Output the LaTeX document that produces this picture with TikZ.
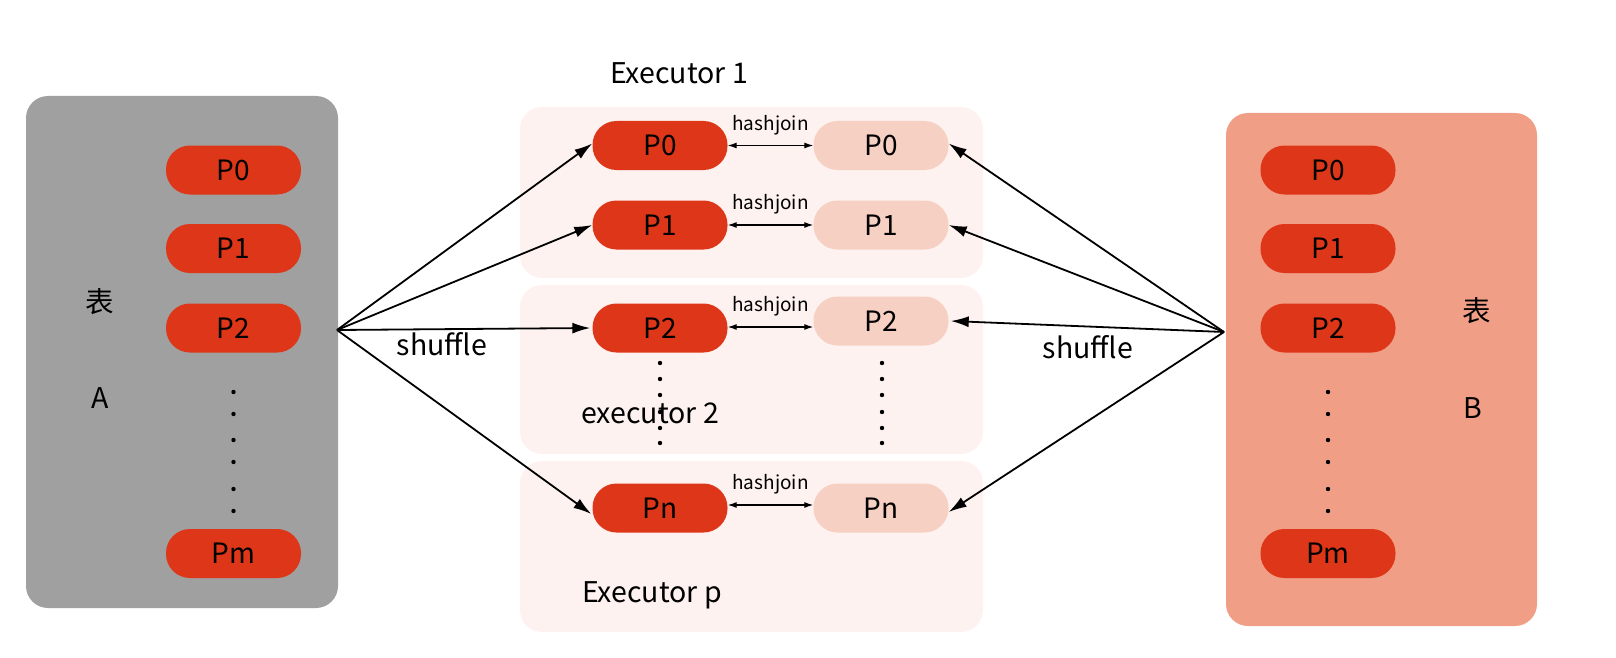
\documentclass[tikz,border=0pt]{standalone}
\usepackage{fontspec}
\setmainfont{Noto Sans CJK SC}
\usetikzlibrary{arrows.meta}
\definecolor{grayA}{RGB}{160,160,160}
\definecolor{redP}{RGB}{221,54,24}
\definecolor{salmonB}{RGB}{241,158,134}
\definecolor{lightP}{RGB}{247,208,196}
\definecolor{execbg}{RGB}{253,242,239}
\begin{document}
\begin{tikzpicture}[x=1pt,y=-1pt,
 pill/.style={rectangle, rounded corners=24pt, minimum width=135pt, minimum height=49pt, inner sep=0pt, font=\fontsize{28}{32}\selectfont, text=black},
 darkpill/.style={pill, fill=redP},
 lightpill/.style={pill, fill=lightP},
 tablebox/.style={rectangle, rounded corners=22pt, inner sep=0pt},
 execbox/.style={rectangle, rounded corners=22pt, fill=execbg, inner sep=0pt, minimum width=463pt},
 shuf/.style={-{Latex[length=18pt,width=11pt]}, line width=1.8pt},
 hj/.style={{Latex[length=9pt,width=6pt]}-{Latex[length=9pt,width=6pt]}, line width=1.2pt},
 lbl/.style={font=\fontsize{28.5}{32}\selectfont, inner sep=0pt},
 hjlbl/.style={font=\fontsize{19}{21}\selectfont, inner sep=0pt}
]
\useasboundingbox (0,0) rectangle (1616,658);
% table boxes
\node[tablebox, fill=grayA, minimum width=312pt, minimum height=512pt] (tA) at (182,352) {};
\node[tablebox, fill=salmonB, minimum width=311pt, minimum height=513pt] (tB) at (1381.5,369.5) {};
% executor boxes
\node[execbox, minimum height=171pt] (e1) at (751.5,192.5) {};
\node[execbox, minimum height=169pt] (e2) at (751.5,369.5) {};
\node[execbox, minimum height=171pt] (e3) at (751.5,546.5) {};
% labels
\node[lbl] (tA1) at (100,302) {表};
\node[lbl] (tA2) at (100,398) {A};
\node[lbl] (tB1) at (1477,311) {表};
\node[lbl] (tB2) at (1473,408) {B};
\node[lbl] (x1) at (679,73) {Executor 1};
\node[lbl] (x2) at (650,413) {executor 2};
\node[lbl] (x3) at (652,595) {Executor p};
% table A pills
\node[darkpill] (a0) at (233.5,170) {P0};
\node[darkpill] (a1) at (233.5,248.5) {P1};
\node[darkpill] (a2) at (233.5,328) {P2};
\node[darkpill] (am) at (233.5,553.5) {Pm};
% table B pills
\node[darkpill] (b0) at (1328,170) {P0};
\node[darkpill] (b1) at (1328,248.5) {P1};
\node[darkpill] (b2) at (1328,328) {P2};
\node[darkpill] (bm) at (1328,553.5) {Pm};
% executor pills
\node[darkpill] (d0) at (660,145.5) {P0};
\node[darkpill] (d1) at (660,225) {P1};
\node[darkpill] (d2) at (660,328) {P2};
\node[darkpill] (dn) at (660,508) {Pn};
\node[lightpill] (l0) at (881,145.5) {P0};
\node[lightpill] (l1) at (881,225) {P1};
\node[lightpill] (l2) at (881,321) {P2};
\node[lightpill] (ln) at (881,508) {Pn};
% dots
\foreach \y in {392,414,440,462,489,511} {
  \fill (233.5,\y) circle (2.2pt);
  \fill (1328,\y) circle (2.2pt);
}
\foreach \y in {363,379,395,412,428,443} {
  \fill (660,\y) circle (2.2pt);
  \fill (882,\y) circle (2.2pt);
}
% shuffle arrows
\coordinate (fa) at (337,330);
\coordinate (fb) at (1224,332);
\draw[shuf] (fa) -- ([yshift=2pt]d0.west);
\draw[shuf] (fa) -- (d1.west);
\draw[shuf] (fa) -- ([xshift=-2pt]d2.west);
\draw[shuf] (fa) -- ([xshift=-1pt,yshift=-6pt]dn.west);
\draw[shuf] (fb) -- ([yshift=2pt]l0.east);
\draw[shuf] (fb) -- (l1.east);
\draw[shuf] (fb) -- ([xshift=2pt]l2.east);
\draw[shuf] (fb) -- ([yshift=-4pt]ln.east);
\node[lbl] (s1) at (442,344) {shuffle};
\node[lbl] (s2) at (1088,347) {shuffle};
% hashjoin
\draw[hj] (d0.east) -- (l0.west) node[midway, above=10pt, hjlbl] (h0) {hashjoin};
\draw[hj] (d1.east) -- (l1.west) node[midway, above=10pt, hjlbl] (h1) {hashjoin};
\draw[hj] ([yshift=1pt]d2.east) -- ([yshift=1pt]d2.east -| l2.west) node[midway, above=10pt, hjlbl] (h2) {hashjoin};
\draw[hj] ([yshift=3pt]dn.east) -- ([yshift=3pt]ln.west) node[midway, above=10pt, hjlbl] (hn) {hashjoin};
\end{tikzpicture}
\end{document}
